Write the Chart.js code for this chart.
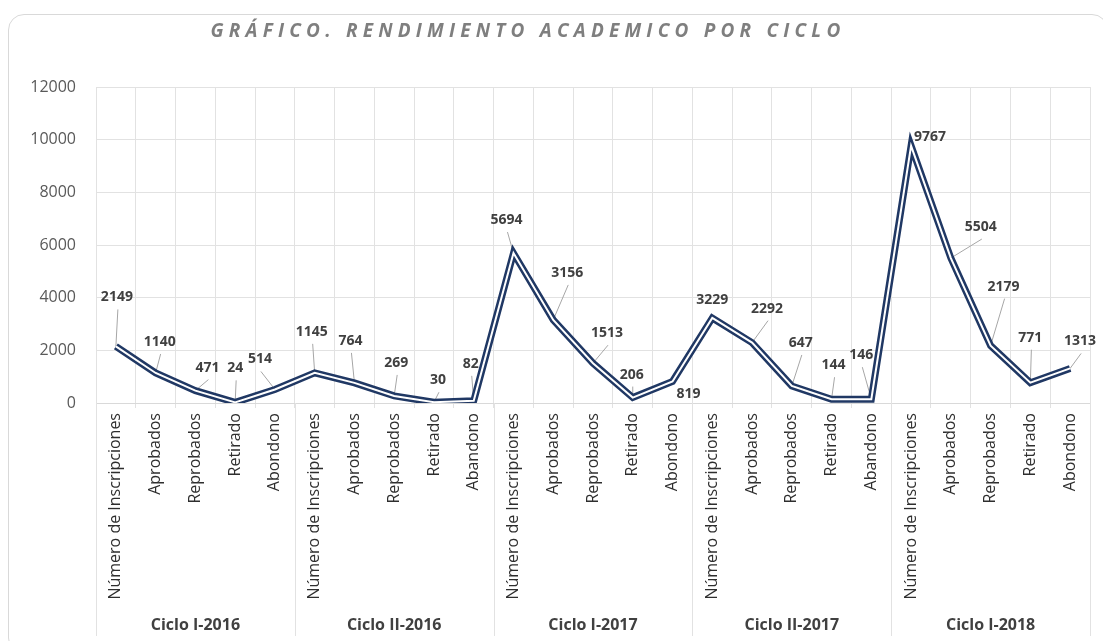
<!DOCTYPE html>
<html><head><meta charset="utf-8">
<script src="https://cdn.jsdelivr.net/npm/chart.js@4.4.1/dist/chart.umd.min.js"></script>
<style>
html,body{margin:0;padding:0;background:#fff;overflow:hidden;}
#frame{position:absolute;left:8px;top:14px;width:1100px;height:640px;border:1px solid #d9d9d9;border-radius:16px;box-sizing:border-box;}
#wrap{position:absolute;left:0;top:0;width:1103px;height:641px;}
</style></head><body>
<div id="frame"></div>
<div id="wrap"><canvas id="c" width="1103" height="641"></canvas></div>
<script>
// ---- data ----
const TITLE = 'GRÁFICO. RENDIMIENTO ACADEMICO POR CICLO';
const CYCLES = ['Ciclo I-2016', 'Ciclo II-2016', 'Ciclo I-2017', 'Ciclo II-2017', 'Ciclo I-2018'];
const CATEGORIES = [
  'Número de Inscripciones', 'Aprobados', 'Reprobados', 'Retirado', 'Abondono',
  'Número de Inscripciones', 'Aprobados', 'Reprobados', 'Retirado', 'Abandono',
  'Número de Inscripciones', 'Aprobados', 'Reprobados', 'Retirado', 'Abondono',
  'Número de Inscripciones', 'Aprobados', 'Reprobados', 'Retirado', 'Abandono',
  'Número de Inscripciones', 'Aprobados', 'Reprobados', 'Retirado', 'Abondono'
];
const VALUES = [
  2149, 1140, 471, 24, 514,
  1145, 764, 269, 30, 82,
  5694, 3156, 1513, 206, 819,
  3229, 2292, 647, 144, 146,
  9767, 5504, 2179, 771, 1313
];
const Y_TICKS = [0, 2000, 4000, 6000, 8000, 10000, 12000];

// label placement relative to each point: [dx, dy, drawLeader]
const LABEL_OFFSETS = [
  [1,-49,1],[4,-31,1],[12,-23,1],[0,-34,1],[-15,-30,1],
  [-3,-41,1],[-4,-42,1],[2,-33,1],[4,-22,1],[-3,-37,1],
  [-7,-33,1],[14,-47,1],[14,-30,1],[-1,-23,1],[16,13,0],
  [0,-18,0],[15,-34,1],[9,-43,1],[2,-34,1],[-10,-44,1],
  [19,-9,0],[30,-31,1],[13,-59,1],[0,-45,1],[10,-27,1]
];

const FONT = '"Open Sans", "DejaVu Sans", sans-serif';
const GRID = '#e2e2e2';

const labelPlugin = {
  id: 'excelLabels',
  beforeDatasetsDraw(chart) {
    const ctx = chart.ctx;
    const meta = chart.getDatasetMeta(0);
    ctx.save();
    ctx.strokeStyle = '#a6a6a6';
    ctx.lineWidth = 1;
    meta.data.forEach((pt, i) => {
      const o = LABEL_OFFSETS[i];
      if (!o || !o[2]) return;
      const lx = pt.x + o[0], ly = pt.y + o[1];
      ctx.beginPath();
      ctx.moveTo(lx + 1, ly + 12);
      ctx.lineTo(pt.x, pt.y);
      ctx.stroke();
    });
    ctx.restore();
  },
  afterDatasetsDraw(chart) {
    const ctx = chart.ctx;
    const meta = chart.getDatasetMeta(0);
    ctx.save();
    ctx.font = 'bold 14px ' + FONT;
    ctx.fillStyle = '#404040';
    ctx.textAlign = 'center';
    ctx.textBaseline = 'middle';
    meta.data.forEach((pt, i) => {
      const o = LABEL_OFFSETS[i] || [0, -20, 0];
      ctx.fillText(String(VALUES[i]), pt.x + o[0], pt.y + o[1]);
    });
    ctx.restore();
  },
  afterDraw(chart) {
    const ctx = chart.ctx;
    const x = chart.scales.x;
    const area = chart.chartArea;
    const n = CATEGORIES.length / CYCLES.length;
    const half = (x.getPixelForValue(1) - x.getPixelForValue(0)) / 2;
    ctx.save();
    // group separators
    ctx.strokeStyle = GRID;
    ctx.lineWidth = 1;
    for (let g = 0; g <= CYCLES.length; g++) {
      const idx = Math.min(g * n, CATEGORIES.length - 1);
      let px = x.getPixelForValue(idx) + (g * n >= CATEGORIES.length ? half : -half);
      px = Math.round(px) + 0.5;
      ctx.beginPath();
      ctx.moveTo(px, area.bottom);
      ctx.lineTo(px, 636);
      ctx.stroke();
    }
    // group labels
    ctx.font = 'bold 16px ' + FONT;
    ctx.fillStyle = '#404040';
    ctx.textAlign = 'center';
    ctx.textBaseline = 'middle';
    CYCLES.forEach((c, g) => {
      const a = x.getPixelForValue(g * n) - half;
      const b = x.getPixelForValue(g * n + n - 1) + half;
      ctx.fillText(c, (a + b) / 2, 625);
    });
    // title
    ctx.font = 'italic bold 19px ' + FONT;
    ctx.fillStyle = '#7f7f7f';
    ctx.textAlign = 'center';
    ctx.textBaseline = 'middle';
    ctx.letterSpacing = '5.2px';
    ctx.fillText(TITLE, 528, 32);
    ctx.restore();
  }
};

new Chart(document.getElementById('c'), {
  type: 'line',
  data: {
    labels: CATEGORIES,
    datasets: [
      { data: VALUES, borderColor: '#203864', borderWidth: 7, pointRadius: 0, tension: 0,
        borderJoinStyle: 'miter', fill: false, order: 2 },
      { data: VALUES, borderColor: '#ffffff', borderWidth: 2, pointRadius: 0, tension: 0,
        borderJoinStyle: 'miter', fill: false, order: 1 }
    ]
  },
  options: {
    responsive: false,
    animation: false,
    devicePixelRatio: 1,
    layout: { padding: { left: 0, right: 13, top: 87, bottom: 0 } },
    plugins: { legend: { display: false }, tooltip: { enabled: false }, title: { display: false } },
    scales: {
      x: {
        type: 'category',
        offset: true,
        grid: { offset: true, color: GRID, drawTicks: true, tickLength: 5 },
        border: { color: '#d9d9d9' },
        ticks: {
          autoSkip: false, minRotation: 90, maxRotation: 90, padding: 5,
          color: '#2e2e2e', font: { family: FONT, size: 16 }
        },
        afterFit(s) { s.height = 641 - 403; }
      },
      y: {
        min: 0, max: 12000,
        afterBuildTicks(s) { s.ticks = Y_TICKS.map(v => ({ value: v })); },
        grid: { color: GRID, drawTicks: false },
        border: { display: false },
        ticks: { padding: 20, color: '#595959', font: { family: FONT, size: 16 },
          callback: (v) => String(v) },
        afterFit(s) { s.width = 96; }
      }
    }
  },
  plugins: [labelPlugin]
});
</script>
</body></html>
